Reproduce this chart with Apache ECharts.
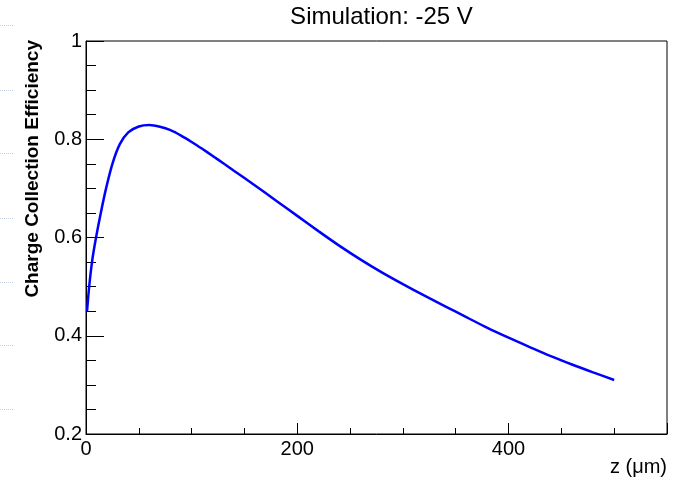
<!DOCTYPE html>
<html>
<head>
<meta charset="utf-8">
<script src="https://cdn.jsdelivr.net/npm/echarts@6/dist/echarts.min.js"></script>
<style>
  html, body { margin: 0; padding: 0; background: #fff; }
  #chart { width: 683px; height: 484px; }
</style>
</head>
<body>
<div id="chart"></div>
<script>
// ---- data ----
const titleText = 'Simulation: -25 V';
const xTitle = 'z (\u03bcm)';
const yTitle = 'Charge Collection Efficiency';
const zValues = [1, 3, 6, 9.5, 14, 19, 25, 32, 40, 50, 60, 70, 80, 90, 100, 110, 120, 130, 140, 160, 180, 200,
                 220, 240, 260, 280, 300, 320, 340, 360, 380, 400, 420, 440, 460, 480, 500];
const cceValues = [0.45, 0.50, 0.555, 0.60, 0.65, 0.70, 0.75, 0.79, 0.814, 0.826, 0.829, 0.8255, 0.8185, 0.8075, 0.7945, 0.7805, 0.766, 0.751, 0.736, 0.706, 0.675, 0.644,
                   0.613, 0.583, 0.555, 0.529, 0.505, 0.482, 0.460, 0.438, 0.416, 0.396, 0.377, 0.3585, 0.3415, 0.3255, 0.310];
const xRange = [0, 550];
const yRange = [0.2, 1];
const xMajorStep = 200;
const xMinorStep = 50;
const yMajorStep = 0.2;

const FONT = "'Liberation Sans', Arial, Helvetica, sans-serif";
const chart = echarts.init(document.getElementById('chart'), null, { renderer: 'canvas' });

const seriesData = zValues.map((z, i) => [z, cceValues[i]]);

// faint dotted screenshot artefacts at the far left edge (decoration only)
const edgeDotsY = [25, 90, 153, 218, 282, 345, 409];

const option = {
  backgroundColor: '#ffffff',
  animation: false,
  title: {
    text: titleText,
    left: 376.5,
    top: 0,
    textAlign: 'center',
    textStyle: { fontFamily: FONT, fontSize: 24, fontWeight: 'normal', color: '#000' }
  },
  grid: {
    left: 86, right: 16, top: 41, bottom: 50,
    show: true, borderColor: '#000', borderWidth: 1, backgroundColor: 'transparent',
    containLabel: false,
    outerBoundsMode: 'none'
  },
  xAxis: [
    {
      type: 'value', position: 'bottom', min: xRange[0], max: xRange[1], interval: xMinorStep,
      axisLine: { show: true, lineStyle: { color: '#000', width: 1 } },
      axisTick: { show: true, inside: true, length: 6, lineStyle: { color: '#000', width: 1 } },
      axisLabel: { show: false },
      splitLine: { show: false }
    },
    {
      type: 'value', position: 'bottom', offset: 0, min: xRange[0], max: xRange[1], interval: xMajorStep,
      axisLine: { show: false },
      axisTick: { show: true, inside: true, length: 11, lineStyle: { color: '#000', width: 1 } },
      axisLabel: {
        show: true, margin: 5, color: '#000', fontFamily: FONT, fontSize: 20,
        formatter: v => (v % xMajorStep === 0 ? String(v) : '')
      },
      splitLine: { show: false }
    }
  ],
  yAxis: {
    type: 'value', min: yRange[0], max: yRange[1], interval: yMajorStep,
    axisLine: { show: true, lineStyle: { color: '#000', width: 1 } },
    axisTick: { show: true, inside: true, length: 18, lineStyle: { color: '#000', width: 1 } },
    minorTick: { show: true, splitNumber: 4, length: 10, lineStyle: { color: '#000', width: 1 } },
    axisLabel: {
      margin: 4, color: '#000', fontFamily: FONT, fontSize: 20,
      formatter: v => String(parseFloat(v.toFixed(2)))
    },
    splitLine: { show: false }
  },
  series: [{
    type: 'line',
    xAxisIndex: 0,
    data: seriesData,
    showSymbol: false,
    smooth: 0.3,
    lineStyle: { color: '#0000ff', width: 2.5 },
    clip: true
  }],
  graphic: [
    {
      type: 'text', x: 33, y: 40, rotation: Math.PI / 2,
      style: { text: yTitle, font: 'bold 19px ' + FONT, fill: '#000', align: 'right', verticalAlign: 'middle' }
    },
    {
      type: 'text', x: 667, y: 467,
      style: { text: xTitle, font: '20px ' + FONT, fill: '#000', align: 'right', verticalAlign: 'middle' }
    }
  ].concat(edgeDotsY.map(y => ({
    type: 'line', silent: true,
    shape: { x1: 0, y1: y + 0.5, x2: 14, y2: y + 0.5 },
    style: { stroke: '#c5cfe0', lineWidth: 1, lineDash: [1, 1] }
  })))
};
chart.setOption(option);
</script>
</body>
</html>
